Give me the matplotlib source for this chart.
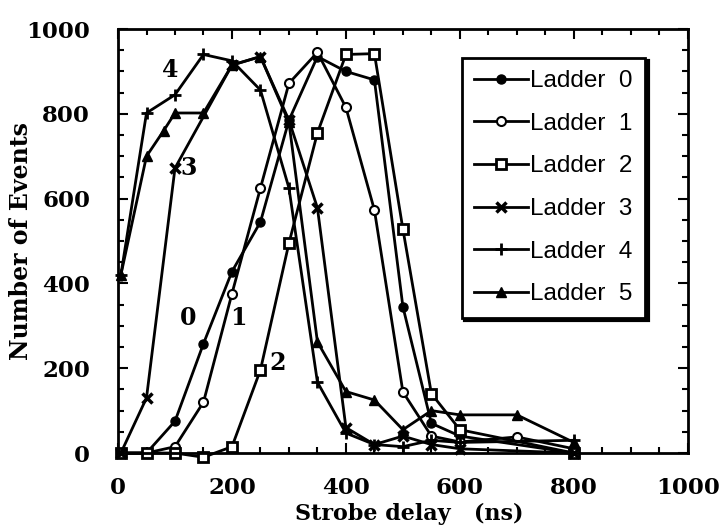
import matplotlib.pyplot as plt
from matplotlib.ticker import MultipleLocator

# --- Data ---
x0 = [5, 50, 100, 150, 200, 250, 300, 350, 400, 450, 500, 550, 600, 800]
y0 = [0, 0, 75, 258, 428, 545, 785, 935, 900, 880, 345, 70, 40, 0]

x1 = [5, 50, 100, 150, 200, 250, 300, 350, 400, 450, 500, 550, 600, 700, 800]
y1 = [0, 0, 15, 120, 376, 625, 872, 945, 815, 573, 144, 40, 26, 38, 10]

x2 = [5, 50, 100, 150, 200, 250, 300, 350, 400, 450, 500, 550, 600, 800]
y2 = [0, 0, 0, -10, 15, 196, 495, 755, 940, 942, 528, 140, 55, 0]

x3 = [5, 50, 100, 200, 250, 300, 350, 400, 450, 500, 550, 600, 800]
y3 = [0, 130, 672, 915, 935, 785, 578, 60, 20, 40, 20, 10, 0]

x4 = [5, 50, 100, 150, 200, 250, 300, 350, 400, 450, 500, 550, 600, 800]
y4 = [420, 802, 845, 940, 925, 856, 625, 167, 47, 20, 15, 30, 25, 30]

x5 = [5, 50, 80, 100, 150, 200, 250, 300, 350, 400, 450, 500, 550, 600, 700, 800]
y5 = [420, 700, 760, 802, 802, 915, 935, 780, 262, 145, 125, 55, 100, 90, 90, 25]

labels = ['Ladder  0', 'Ladder  1', 'Ladder  2', 'Ladder  3', 'Ladder  4', 'Ladder  5']

# curve annotations: text, x, y
notes = [('4', 91, 903), ('3', 123, 672), ('0', 123, 318), ('1', 211, 318), ('2', 281, 212)]

serif = 'DejaVu Serif'

fig = plt.figure(figsize=(7.24, 5.28), dpi=100)
ax = fig.add_axes([0.163, 0.142, 0.787, 0.803])

lw = 2.0
ax.plot(x0, y0, '-o', color='black', lw=lw, ms=6.5, mfc='black', label=labels[0], clip_on=False)
ax.plot(x1, y1, '-o', color='black', lw=lw, ms=6.5, mfc='white', mew=1.5, label=labels[1], clip_on=False)
ax.plot(x2, y2, '-s', color='black', lw=lw, ms=6.5, mfc='white', mew=2, label=labels[2], clip_on=False)
ax.plot(x3, y3, '-x', color='black', lw=lw, ms=7, mew=2.5, label=labels[3], clip_on=False)
ax.plot(x4, y4, '-+', color='black', lw=lw, ms=9, mew=2, label=labels[4], clip_on=False)
ax.plot(x5, y5, '-^', color='black', lw=lw, ms=6.5, mfc='black', label=labels[5], clip_on=False)

for t, xx, yy in notes:
    ax.text(xx, yy, t, fontsize=17, fontweight='bold', family=serif,
            ha='center', va='center')

ax.set_xlim(0, 1000)
ax.set_ylim(0, 1000)
ax.xaxis.set_major_locator(MultipleLocator(200))
ax.xaxis.set_minor_locator(MultipleLocator(50))
ax.yaxis.set_major_locator(MultipleLocator(200))
ax.yaxis.set_minor_locator(MultipleLocator(50))
ax.tick_params(which='both', direction='in', top=True, right=True, width=1.5)
ax.tick_params(which='major', length=7)
ax.tick_params(which='minor', length=4)
ax.tick_params(axis='x', which='major', pad=17)
ax.tick_params(axis='y', which='major', pad=20)
for sp in ax.spines.values():
    sp.set_linewidth(2)

for lab in ax.get_xticklabels() + ax.get_yticklabels():
    lab.set_family(serif)
    lab.set_fontweight('bold')
    lab.set_fontsize(16.5)

ax.set_xlabel('Strobe delay   (ns)', family=serif, fontweight='bold', fontsize=16)
ax.xaxis.set_label_coords(0.511, -0.1185)
ax.set_ylabel('Number of Events', family=serif, fontweight='bold', fontsize=17)
ax.yaxis.set_label_coords(-0.149, 0.5)

leg = ax.legend(loc='upper left', bbox_to_anchor=(0.604, 0.932), borderaxespad=0,
                prop={'family': 'Liberation Sans', 'size': 17.5},
                handlelength=2.2, handletextpad=0.1, labelspacing=0.85, borderpad=0.5,
                frameon=True, fancybox=False, edgecolor='black', framealpha=1,
                shadow={'color': 'black', 'alpha': 1, 'linewidth': 3})
leg.get_frame().set_linewidth(2)

fig.savefig('out.png', dpi=100)
